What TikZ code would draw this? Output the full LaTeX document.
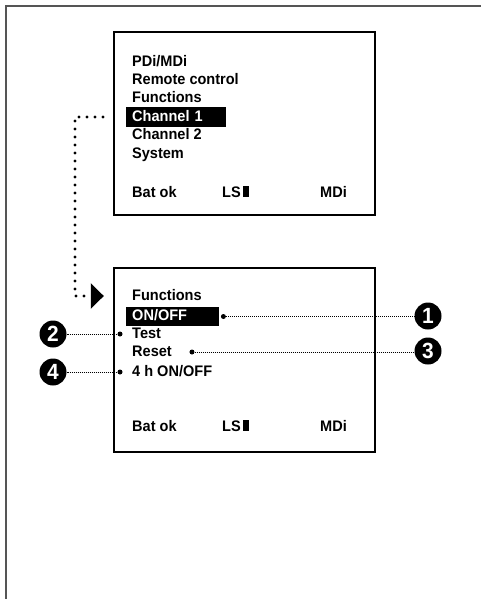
\documentclass[tikz,border=0pt]{standalone}
\usepackage{fontspec}
\setmainfont{Liberation Sans}[FakeStretch=0.95]
\usetikzlibrary{arrows.meta,positioning}
\definecolor{framegray}{RGB}{85,85,85}

\begin{document}
\begin{tikzpicture}[x=1pt,y=-1pt,
    screen/.style={draw,line width=2.4pt,minimum width=261pt,minimum height=183pt,inner sep=0pt},
    item/.style={anchor=west,inner sep=0pt,text height=11.5pt,text depth=3pt,
                 font=\fontsize{15.3}{17}\selectfont\bfseries},
    hilite/.style={item,fill=black,text=white,inner xsep=6pt,minimum height=19pt,align=left},
    callout/.style={circle,fill=black,text=white,minimum size=27pt,inner sep=0pt,
                    font=\fontsize{22}{23}\selectfont\bfseries},
    pin/.style={circle,fill=black,minimum size=5pt,inner sep=0pt},
    lead/.style={densely dotted,line width=1pt},
    jump/.style={line width=3.3pt,line cap=round,dash pattern=on 0pt off 8pt,
                 -{Triangle[length=13pt,width=25pt]}}
  ]
  \useasboundingbox (0,0) rectangle (481,599);
  % page frame
  \draw[framegray,line width=2pt] (6,599) -- (6,6) -- (481,6);

  % first screen
  \node[screen] (scr1) at (244.5,123.5) {};
  \node[item] (pdi)    at (132,62)    {PDi/MDi};
  \node[item] (remote) at (132,80)    {Remote control};
  \node[item] (func)   at (132,98.5)  {Functions};
  \node[hilite,text width=88pt] (ch1) at (126,117) {Channel 1};
  \node[item] (ch2)    at (132,135.5) {Channel 2};
  \node[item] (sys)    at (132,154)   {System};
  \node[item] (bat1)   at (132,193)   {Bat ok};
  \node[item] (ls1)    at (222,193)   {LS\hspace{2.5pt}\rule{6pt}{11pt}};
  \node[item] (mdi1)   at (320,193)   {MDi};

  % second screen
  \node[screen,minimum height=184pt] (scr2) at (244.5,360) {};
  \node[item] (func2) at (132,296)  {Functions};
  \node[hilite,text width=81pt] (onoff) at (126,316.5) {ON/OFF};
  \node[item] (test)  at (132,334)  {Test};
  \node[item] (reset) at (132,352)  {Reset};
  \node[item] (timer) at (132,372)  {4 h ON/OFF};
  \node[item] (bat2)  at (132,427)  {Bat ok};
  \node[item] (ls2)   at (222,427)  {LS\hspace{2.5pt}\rule{6pt}{11pt}};
  \node[item] (mdi2)  at (320,427)  {MDi};

  % jump from Channel 1 to its submenu
  \draw[jump] ([xshift=-23pt]ch1.west) -- ++(-28pt,0) |- ([xshift=-9pt]scr2.west |- func2);

  % callouts
  \node[pin] (p1) at ([xshift=4pt]onoff.east) {};
  \node[pin] (p2) at ([xshift=-12pt]test.west) {};
  \node[pin] (p3) at ([xshift=20pt]reset.east) {};
  \node[pin] (p4) at ([xshift=-12pt]timer.west) {};
  \node[callout] (c1) at (428,316) {1};
  \node[callout] (c2) at (53,334)  {2};
  \node[callout] (c3) at (428,351) {3};
  \node[callout] (c4) at (53,372)  {4};
  \draw[lead] (p1) -- (p1 -| c1.west);
  \draw[lead] (p2) -- (p2 -| c2.east);
  \draw[lead] (p3) -- (p3 -| c3.west);
  \draw[lead] (p4) -- (p4 -| c4.east);
\end{tikzpicture}
\end{document}
